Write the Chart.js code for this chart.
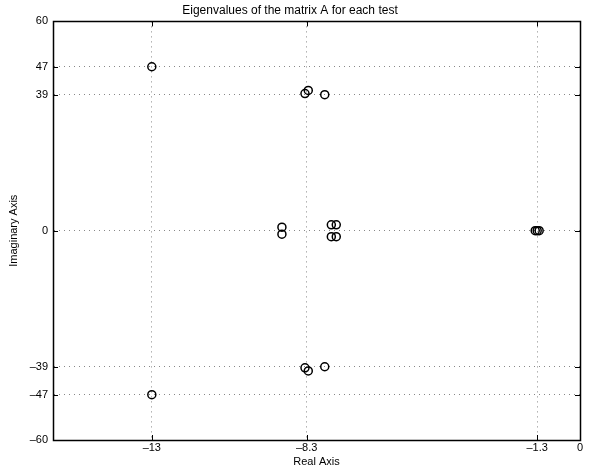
<!DOCTYPE html>
<html>
<head>
<meta charset="utf-8">
<script src="https://cdn.jsdelivr.net/npm/chart.js@4/dist/chart.umd.min.js"></script>
<style>
  html, body { margin: 0; padding: 0; background: #fff; }
  #wrap { width: 594px; height: 472px; }
</style>
</head>
<body>
<div id="wrap"><canvas id="eigChart"></canvas></div>
<script>
// eigenvalues (conjugate pairs)
const realPart = [-13, -13, -8.35, -8.25, -7.75, -8.35, -8.25, -7.75,
                  -9.05, -9.05, -7.55, -7.4, -7.55, -7.4, -1.36, -1.3, -1.24];
const imagPart = [47, -47, 39.3, 40.2, 39.0, -39.3, -40.2, -39.0,
                  1.0, -1.0, 1.7, 1.7, -1.7, -1.7, 0, 0, 0];
const xTicks = [-13, -8.3, -1.3, 0];
const yTicks = [-60, -47, -39, 0, 39, 47, 60];

const FONT = 'Liberation Sans, Arial, sans-serif';

function fmt(v) {
    return v < 0 ? '\u2013' + Math.abs(v) : String(v);
}

// MATLAB style: box round the axes and ticks pointing inward
const boxPlugin = {
    id: 'box',
    afterDraw(chart) {
        const { ctx, chartArea: a } = chart;
        const xs = chart.scales.x, ys = chart.scales.y;
        ctx.save();
        ctx.strokeStyle = '#000';
        ctx.lineWidth = 1;
        ctx.beginPath();
        xTicks.forEach(v => {
            const px = Math.round(xs.getPixelForValue(v)) + 0.5;
            ctx.moveTo(px, a.bottom); ctx.lineTo(px, a.bottom - 5);
            ctx.moveTo(px, a.top); ctx.lineTo(px, a.top + 5);
        });
        yTicks.forEach(v => {
            const py = Math.round(ys.getPixelForValue(v)) + 0.5;
            ctx.moveTo(a.left, py); ctx.lineTo(a.left + 5, py);
            ctx.moveTo(a.right, py); ctx.lineTo(a.right - 5, py);
        });
        ctx.stroke();
        ctx.lineWidth = 1.5;
        ctx.strokeRect(Math.round(a.left) + 0.5, Math.round(a.top) + 0.5,
            Math.round(a.right - a.left), Math.round(a.bottom - a.top));
        ctx.restore();
    }
};

const ctx = document.getElementById('eigChart').getContext('2d');
new Chart(ctx, {
    type: 'scatter',
    data: {
        datasets: [{
            data: realPart.map((x, i) => ({ x: x, y: imagPart[i] })),
            pointStyle: 'circle',
            pointRadius: 4,
            pointBorderWidth: 1.5,
            pointBorderColor: '#000',
            pointBackgroundColor: 'rgba(0,0,0,0)',
        }],
    },
    options: {
        responsive: true,
        maintainAspectRatio: false,
        animation: false,
        layout: { padding: { left: 0, right: 14, top: 0, bottom: 0 } },
        plugins: {
            legend: { display: false },
            tooltip: { enabled: false },
            title: {
                display: true,
                text: 'Eigenvalues of the matrix A for each test',
                color: '#000',
                font: { family: FONT, size: 12, weight: 'normal' },
                padding: { top: 3, bottom: 4 },
            },
        },
        scales: {
            x: {
                type: 'linear',
                min: -16,
                max: 0,
                afterBuildTicks: s => { s.ticks = xTicks.map(v => ({ value: v })); },
                afterFit: s => { s.height = 32; },
                ticks: {
                    color: '#000',
                    padding: 1,
                    maxRotation: 0,
                    autoSkip: false,
                    font: { family: FONT, size: 11 },
                    callback: v => fmt(v),
                },
                grid: {
                    color: '#888',
                    lineWidth: 1,
                    drawTicks: false,
                },
                border: { display: true, color: '#000', width: 1, dash: [1, 4] },
                title: {
                    display: true,
                    text: 'Real Axis',
                    color: '#000',
                    font: { family: FONT, size: 11 },
                    padding: { top: 0, bottom: 3 },
                },
            },
            y: {
                type: 'linear',
                min: -60,
                max: 60,
                afterBuildTicks: s => { s.ticks = yTicks.map(v => ({ value: v })); },
                afterFit: s => { s.width = 53; },
                ticks: {
                    color: '#000',
                    padding: 5,
                    autoSkip: false,
                    font: { family: FONT, size: 11 },
                    callback: v => fmt(v),
                },
                grid: {
                    color: '#888',
                    lineWidth: 1,
                    drawTicks: false,
                },
                border: { display: true, color: '#000', width: 1, dash: [1, 4] },
                title: {
                    display: true,
                    text: 'Imaginary Axis',
                    color: '#000',
                    font: { family: FONT, size: 11 },
                    padding: { top: 7, bottom: 2 },
                },
            },
        },
    },
    plugins: [boxPlugin],
});
</script>
</body>
</html>
